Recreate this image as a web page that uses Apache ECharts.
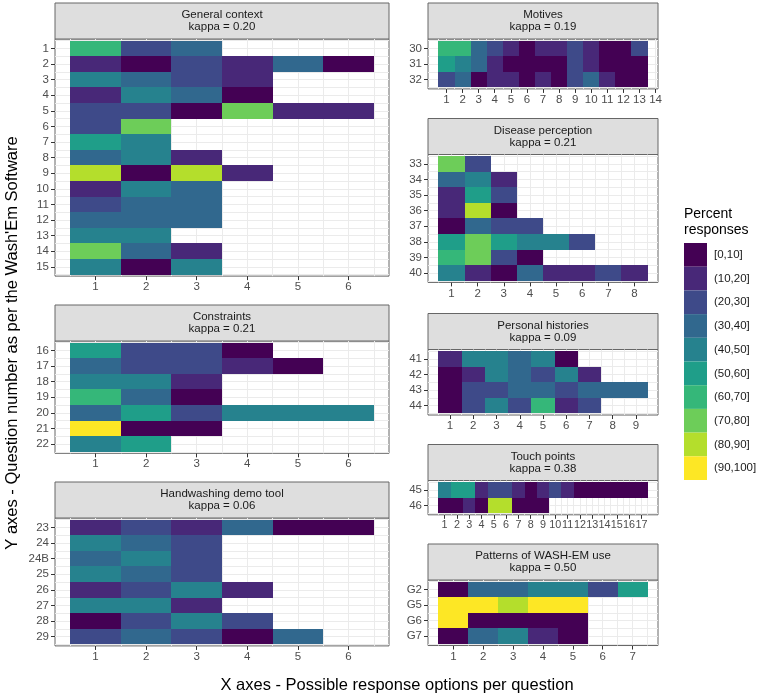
<!DOCTYPE html>
<html><head><meta charset="utf-8">
<script src="https://cdn.jsdelivr.net/npm/echarts@6/dist/echarts.min.js"></script>
<style>html,body{margin:0;padding:0;background:#fff}#c{width:760px;height:695px}</style>
</head><body><div id="c"></div>
<script>
// ---------------- DATA ----------------
const panelTitles = ['General context','Constraints','Handwashing demo tool','Motives','Disease perception','Personal histories','Touch points','Patterns of WASH-EM use'];
const kappas = ['0.20','0.21','0.06','0.19','0.21','0.09','0.38','0.50'];

const generalRows = ['1','2','3','4','5','6','7','8','9','10','11','12','13','14','15'];
const generalValues = [
  [65,25,35],
  [15,5,25,15,35,5],
  [45,35,25,15],
  [15,45,35,5],
  [25,25,5,75,15,15],
  [25,75],
  [55,45],
  [35,45,15],
  [85,5,85,15],
  [15,45,35],
  [25,35,35],
  [35,35,35],
  [45,45],
  [75,35,15],
  [45,5,45]
];
const generalTicks = ['1','2','3','4','5','6'];

const constraintsRows = ['16','17','18','19','20','21','22'];
const constraintsValues = [
  [55,25,25,5],
  [35,25,25,15,5],
  [45,45,15],
  [65,35,5],
  [35,55,25,45,45,45],
  [95,5,5],
  [45,55]
];
const constraintsTicks = ['1','2','3','4','5','6'];

const handwashingRows = ['23','24','24B','25','26','27','28','29'];
const handwashingValues = [
  [15,25,15,35,5,5],
  [45,35,25],
  [35,45,25],
  [45,35,25],
  [15,25,45,15],
  [45,45,15],
  [5,25,45,25],
  [25,35,25,5,35]
];
const handwashingTicks = ['1','2','3','4','5','6'];

const motivesRows = ['30','31','32'];
const motivesValues = [
  [65,65,35,25,15,5,15,15,25,15,5,5,25],
  [55,45,35,15,5,5,5,5,25,15,5,5,5],
  [25,35,5,15,15,5,15,5,25,35,15,5,5]
];
const motivesTicks = ['1','2','3','4','5','6','7','8','9','10','11','12','13','14'];

const diseaseRows = ['33','34','35','36','37','38','39','40'];
const diseaseValues = [
  [75,25],
  [35,45,15],
  [15,55,25],
  [15,85,5],
  [5,35,25,25],
  [55,75,55,45,45,25],
  [65,75,25,5],
  [45,15,5,35,15,15,25,15]
];
const diseaseTicks = ['1','2','3','4','5','6','7','8'];

const personalRows = ['41','42','43','44'];
const personalValues = [
  [15,45,45,35,45,5],
  [5,15,45,35,25,45,15],
  [5,25,25,35,35,25,35,35,35],
  [5,25,45,25,65,15,25]
];
const personalTicks = ['1','2','3','4','5','6','7','8','9'];

const touchRows = ['45','46'];
const touchValues = [
  [45,55,55,15,25,25,15,5,15,25,15,5,5,5,5,5,5],
  [5,5,15,5,85,85,5,5,5]
];
const touchTicks = ['1','2','3','4','5','6','7','8','9','10','11','12','13','14','15','16','17'];

const patternsRows = ['G2','G5','G6','G7'];
const patternsValues = [
  [5,35,35,45,45,25,55],
  [95,95,85,95,95],
  [95,5,5,5,5],
  [5,35,45,15,5]
];
const patternsTicks = ['1','2','3','4','5','6','7'];

const binLabels = ['[0,10]','(10,20]','(20,30]','(30,40]','(40,50]','(50,60]','(60,70]','(70,80]','(80,90]','(90,100]'];
const binEdges = [0,10,20,30,40,50,60,70,80,90,100];
const viridis = ['#440154','#482878','#3E4A89','#31688E','#26828E','#1F9E89','#35B779','#6DCD59','#B4DE2C','#FDE725'];

// ---------------- LAYOUT ----------------
const FONT = '"Liberation Sans", Arial, Helvetica, sans-serif';
const RH = 15.6, STRIP = 36, PADR = 0.1;
const LEFT_COL = {left: 55, width: 334};
const RIGHT_COL = {left: 428, width: 230};

const panels = [
  {rows: generalRows, values: generalValues, ticks: generalTicks, col: LEFT_COL, top: 39},
  {rows: constraintsRows, values: constraintsValues, ticks: constraintsTicks, col: LEFT_COL, top: 341},
  {rows: handwashingRows, values: handwashingValues, ticks: handwashingTicks, col: LEFT_COL, top: 518},
  {rows: motivesRows, values: motivesValues, ticks: motivesTicks, col: RIGHT_COL, top: 39},
  {rows: diseaseRows, values: diseaseValues, ticks: diseaseTicks, col: RIGHT_COL, top: 154.5},
  {rows: personalRows, values: personalValues, ticks: personalTicks, col: RIGHT_COL, top: 349.5},
  {rows: touchRows, values: touchValues, ticks: touchTicks, col: RIGHT_COL, top: 480.5, xFont: 10.8},
  {rows: patternsRows, values: patternsValues, ticks: patternsTicks, col: RIGHT_COL, top: 580}
];

const grids = [], xAxes = [], yAxes = [], series = [], graphics = [];

function hundredths(a, b) { const out = []; for (let k = a; k <= b; k += 5) out.push(String(k)); return out; }

panels.forEach((p, i) => {
  const m = p.rows.length;
  const n = Math.max(...p.values.map(r => r.length));
  const xminH = Math.round((0.5 - 0.05 * n) * 100);
  const xmaxH = Math.round((n + 0.5 + 0.05 * n) * 100);
  const yminH = Math.round((-0.5 - PADR) * 100);
  const ymaxH = Math.round((m - 0.5 + PADR) * 100);
  const height = (m + 2 * PADR) * RH;
  const left = p.col.left, width = p.col.width, top = p.top;

  grids.push({left, top, width, height, show: true, backgroundColor: '#fff', borderColor: '#666', borderWidth: 1, outerBoundsMode: 'none', containLabel: false});

  const nt = p.ticks.length;
  const xTickFn = (idx, val) => { const k = +val; return k % 100 === 0 && k / 100 >= 1 && k / 100 <= nt; };
  const xSplitFn = (idx, val) => { const k = +val; return k % 50 === 0 && k >= 50 && k <= nt * 100 + 50; };
  xAxes.push({type: 'value', gridIndex: i, position: 'top', min: xminH / 100, max: xmaxH / 100, show: false});
  xAxes.push({
    type: 'category', gridIndex: i, boundaryGap: false, position: 'bottom',
    data: hundredths(xminH, xmaxH),
    axisLine: {show: false},
    axisTick: {show: true, length: 4, interval: xTickFn, lineStyle: {color: '#333', width: 1}},
    axisLabel: {interval: xTickFn, margin: 5, fontSize: p.xFont || 11.5, color: '#4d4d4d', fontFamily: FONT,
      showMinLabel: true, showMaxLabel: true, hideOverlap: false,
      formatter: v => p.ticks[(+v) / 100 - 1]},
    splitLine: {show: true, interval: xSplitFn, lineStyle: {color: '#ebebeb', width: 1}}
  });

  const yTickFn = (idx, val) => { const k = +val; return k % 100 === 0 && k >= 0 && k / 100 <= m - 1; };
  const ySplitFn = (idx, val) => { const k = +val; return k % 50 === 0 && k >= -50 && k <= m * 100 - 50; };
  yAxes.push({type: 'value', gridIndex: i, position: 'right', inverse: true, min: yminH / 100, max: ymaxH / 100, show: false});
  yAxes.push({
    type: 'category', gridIndex: i, position: 'left', inverse: true, boundaryGap: false,
    data: hundredths(yminH, ymaxH),
    axisLine: {show: false},
    axisTick: {show: true, length: 4, interval: yTickFn, lineStyle: {color: '#333', width: 1}},
    axisLabel: {interval: yTickFn, margin: 6, fontSize: 11.5, color: '#4d4d4d', fontFamily: FONT,
      showMinLabel: true, showMaxLabel: true, hideOverlap: false,
      formatter: v => p.rows[(+v) / 100]},
    splitLine: {show: true, interval: ySplitFn, lineStyle: {color: '#ebebeb', width: 1}}
  });

  const data = [];
  p.values.forEach((row, r) => row.forEach((v, c) => data.push([c + 1, r, v])));
  series.push({
    type: 'custom', coordinateSystem: 'cartesian2d', xAxisIndex: 2 * i, yAxisIndex: 2 * i,
    encode: {x: 0, y: 1}, silent: true, data,
    renderItem: (params, api) => {
      const x = api.value(0), y = api.value(1);
      const a = api.coord([x - 0.5, y - 0.5]), b = api.coord([x + 0.5, y + 0.5]);
      const x0 = Math.round(Math.min(a[0], b[0])), x1 = Math.round(Math.max(a[0], b[0]));
      const y0 = Math.round(Math.min(a[1], b[1])), y1 = Math.round(Math.max(a[1], b[1]));
      return {type: 'rect', shape: {x: x0, y: y0, width: x1 - x0, height: y1 - y0}, style: {fill: api.visual('color')}};
    }
  });

  graphics.push({type: 'rect', shape: {x: left, y: top - STRIP, width, height: STRIP},
    style: {fill: '#dedede', stroke: '#666', lineWidth: 1}, silent: true});
  graphics.push({type: 'text', x: left + width / 2, y: top - STRIP / 2,
    style: {text: panelTitles[i] + '\nkappa = ' + kappas[i], fontSize: 11.5, lineHeight: 12, fontFamily: FONT,
      fill: '#1a1a1a', align: 'center', verticalAlign: 'middle'}, silent: true});
});

graphics.push({type: 'text', x: 684, y: 222, style: {text: 'Percent\nresponses', fontSize: 14, lineHeight: 16, fontFamily: FONT, fill: '#000', align: 'left', verticalAlign: 'middle'}});
graphics.push({type: 'text', x: 397, y: 685, style: {text: 'X axes - Possible response options per question', fontSize: 16.5, fontFamily: FONT, fill: '#000', align: 'center', verticalAlign: 'middle'}});
graphics.push({type: 'text', x: 12, y: 343, rotation: Math.PI / 2, style: {text: "Y axes - Question number as per the Wash'Em Software", fontSize: 16.5, fontFamily: FONT, fill: '#000', align: 'center', verticalAlign: 'middle'}});

const pieces = binLabels.map((lab, j) => {
  const pc = {lte: binEdges[j + 1], label: lab, color: viridis[j]};
  if (j === 0) pc.gte = binEdges[j]; else pc.gt = binEdges[j];
  return pc;
});

const chart = echarts.init(document.getElementById('c'), null, {renderer: 'canvas'});
chart.setOption({
  animation: false,
  backgroundColor: '#fff',
  grid: grids, xAxis: xAxes, yAxis: yAxes, series,
  visualMap: {
    type: 'piecewise', dimension: 2, seriesIndex: series.map((s, i) => i),
    pieces, orient: 'vertical', inverse: true, align: 'left',
    left: 684, top: 243, padding: 0, itemWidth: 23, itemHeight: 23.7, itemGap: 0, itemSymbol: 'rect',
    textGap: 7, selectedMode: false, hoverLink: false, showLabel: true,
    textStyle: {fontSize: 11.5, color: '#1a1a1a', fontFamily: FONT}
  },
  graphic: {elements: graphics}
});
</script></body></html>
